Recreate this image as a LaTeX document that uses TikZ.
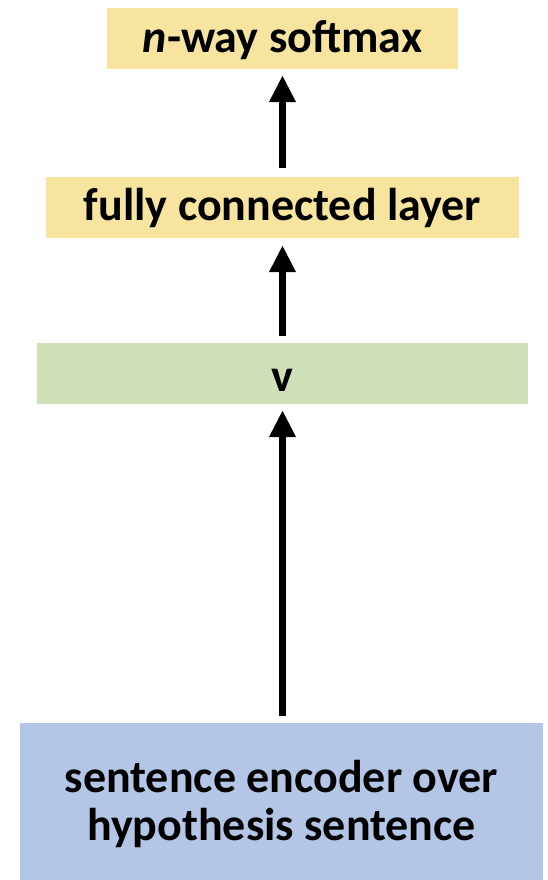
\documentclass[tikz,border=0pt]{standalone}
\usepackage{fontspec}
\setmainfont{Carlito}
\usetikzlibrary{arrows.meta}
\definecolor{boxyellow}{RGB}{247,228,158}
\definecolor{boxgreen}{RGB}{207,224,185}
\definecolor{boxblue}{RGB}{180,198,230}
\tikzset{
  layer/.style={rectangle, inner sep=0pt, minimum height=61pt,
    font=\fontsize{46}{48}\selectfont\bfseries, text=black, align=center,
    text depth=0pt},
  % baseline sits #1/2 below the box centre
  drop/.style={text height=#1},
  uparrow/.style={line width=7pt, -{Triangle[width=25pt,length=27pt]}}
}
\begin{document}
\begin{tikzpicture}[x=1pt, y=-1pt]
  \useasboundingbox (0,0) rectangle (547,880);
  % stacked layers, bottom to top
  \node[layer, drop=77pt, fill=boxblue, minimum width=523pt, minimum height=157pt]
    (enc) at (281.5,801.5) {sentence encoder over\\hypothesis sentence};
  \node[layer, drop=35pt, fill=boxgreen, minimum width=491pt] (v) at (282.5,373.5) {v};
  \node[layer, drop=26pt, fill=boxyellow, minimum width=473pt] (fc) at (282.5,207.5) {fully connected layer};
  \node[layer, drop=29pt, fill=boxyellow, minimum width=351pt] (sm) at (282.5,38.5) {\textit{n}-way softmax};
  % upward connections
  \draw[uparrow, shorten <=7pt, shorten >=6pt] (enc.north -| v.south) -- (v.south);
  \draw[uparrow, shorten <=7pt, shorten >=7pt] (v.north) -- (fc.south);
  \draw[uparrow, shorten <=9pt, shorten >=6pt] (fc.north) -- (sm.south);
\end{tikzpicture}
\end{document}
